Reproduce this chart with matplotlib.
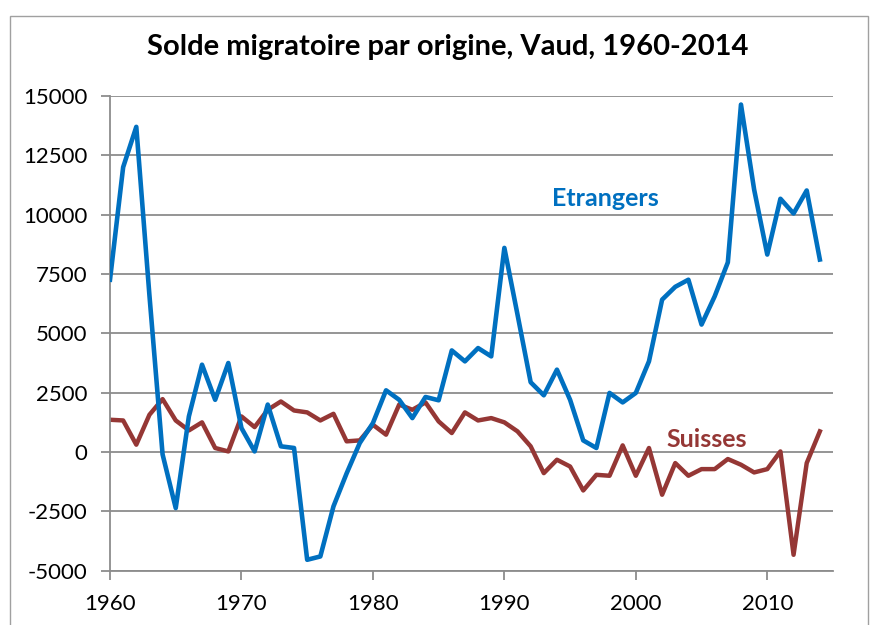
import matplotlib.pyplot as plt
import matplotlib.patches as mpatches
import numpy as np

years = list(range(1960, 2015))

etrangers = [7260, 12000, 13700, 6600, -100, -2360, 1500, 3680, 2200, 3750,
             1010, 25, 2000, 240, 170, -4540, -4400, -2290, -900, 380,
             1220, 2600, 2200, 1430, 2320, 2180, 4280, 3820, 4380, 4030,
             8600, 5790, 2940, 2390, 3470, 2200, 490, 170, 2490, 2090,
             2490, 3820, 6420, 6960, 7260, 5370, 6560, 7990, 14640, 11060,
             8320, 10670, 10050, 11020, 8110]

suisses = [1360, 1330, 310, 1570, 2230, 1330, 910, 1250, 170, 25,
           1500, 1050, 1780, 2130, 1750, 1670, 1330, 1610, 450, 490,
           1150, 730, 2000, 1780, 2090, 1290, 800, 1670, 1330, 1430,
           1250, 870, 240, -890, -325, -610, -1620, -960, -1000, 280,
           -1000, 170, -1800, -465, -1000, -720, -720, -295, -535, -860,
           -720, 25, -4330, -465, 870]

yticks = [-5000, -2500, 0, 2500, 5000, 7500, 10000, 12500, 15000]
xticks = [1960, 1970, 1980, 1990, 2000, 2010]

BLUE = '#0070C0'
RED = '#953735'
GRID = '#8c8c8c'

plt.rcParams['font.family'] = ['Lato', 'DejaVu Sans']

fig = plt.figure(figsize=(8.72, 6.25), dpi=100)
ax = fig.add_axes([110 / 872, 1 - 570.7 / 625, (833 - 110) / 872, (570.7 - 96) / 625])

# outer chart frame
fig.patches.append(mpatches.Rectangle((10 / 872, -0.1), (868 - 10) / 872, 1.1 - 16 / 625,
                                      transform=fig.transFigure, fill=False,
                                      edgecolor='#a0a0a0', linewidth=1.0))

ax.plot(years, etrangers, color=BLUE, linewidth=3.3, solid_joinstyle='round', zorder=3)
ax.plot(years, suisses, color=RED, linewidth=3.2, solid_joinstyle='round', zorder=2)

ax.set_xlim(1960, 2015)
ax.set_ylim(-5000, 15000)
ax.set_yticks(yticks)
ax.set_xticks(xticks)
ax.set_yticklabels([str(v) for v in yticks], fontsize=16)
ax.set_xticklabels([str(v) for v in xticks], fontsize=16)

ax.yaxis.grid(True, color=GRID, linewidth=1.3)
ax.set_axisbelow(True)
for s in ['top', 'right']:
    ax.spines[s].set_visible(False)
for s in ['left', 'bottom']:
    ax.spines[s].set_color(GRID)
    ax.spines[s].set_linewidth(1.3)
ax.tick_params(axis='both', direction='out', length=6.5, width=1.3, color=GRID)
ax.tick_params(axis='y', pad=10)
ax.tick_params(axis='x', pad=10)

ax.text(1997.7, 10680, 'Etrangers', color=BLUE, fontsize=18, fontweight='bold',
        ha='center', va='center')
ax.text(2005.4, 520, 'Suisses', color=RED, fontsize=18, fontweight='bold',
        ha='center', va='center')

fig.text(0.513, 1 - 47 / 625, 'Solde migratoire par origine, Vaud, 1960-2014',
         fontsize=21, fontweight='bold', ha='center', va='center')

fig.savefig('out.png', dpi=100)
